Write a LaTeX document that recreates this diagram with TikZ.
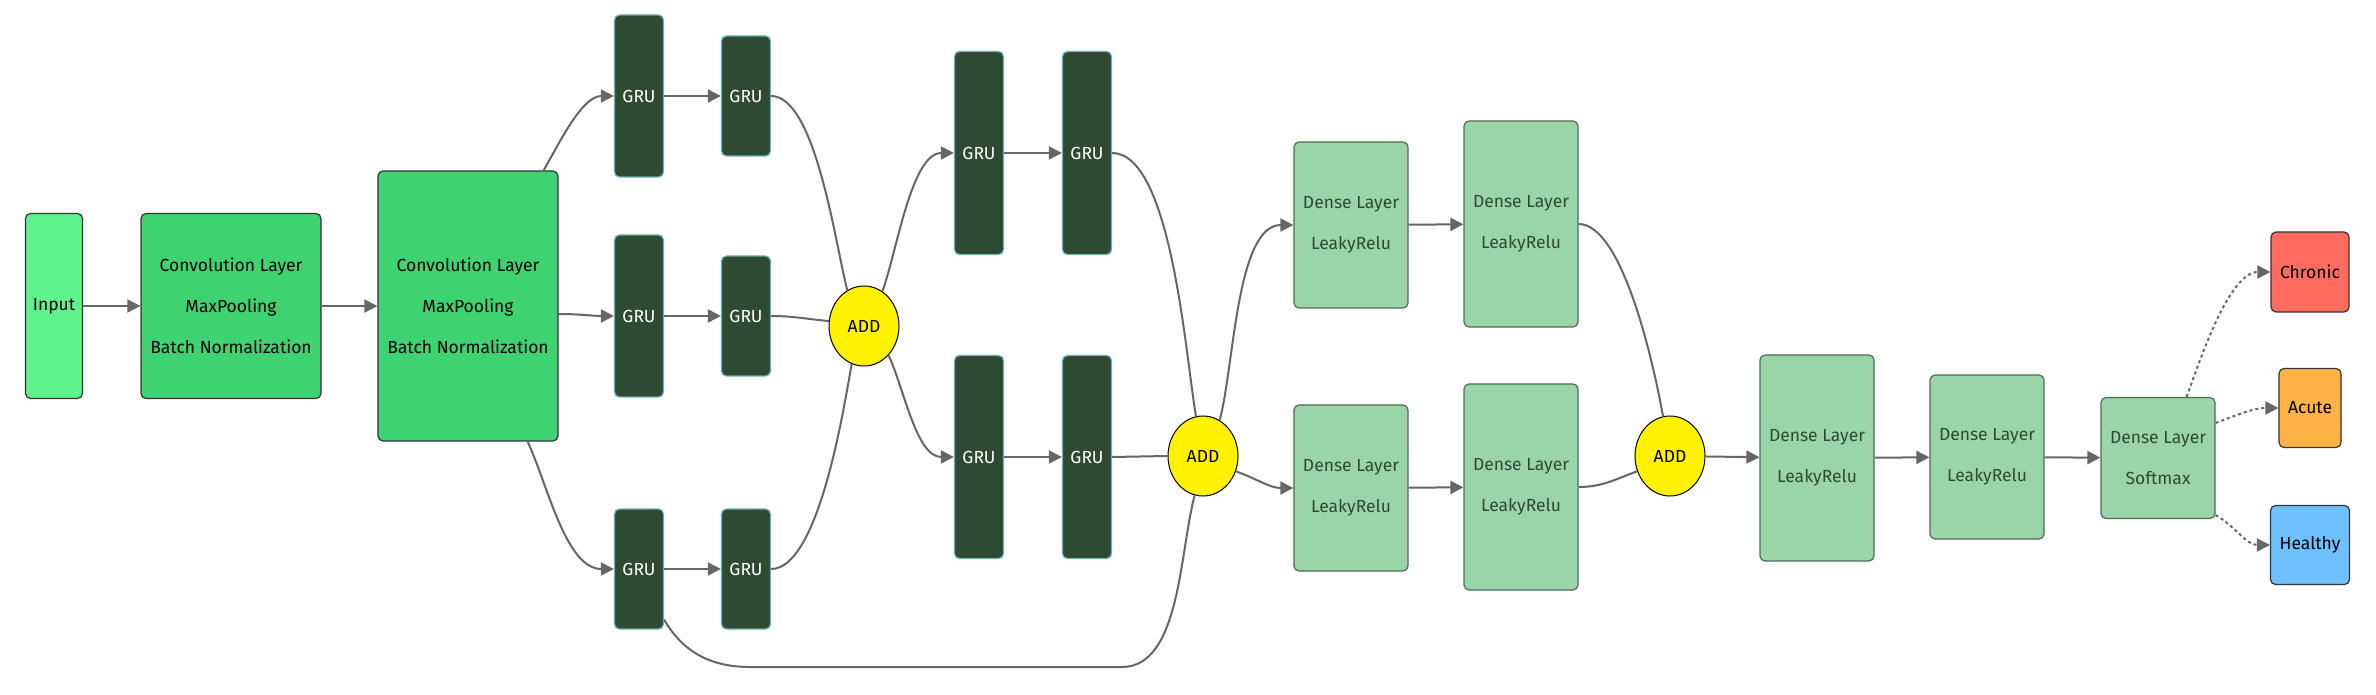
\documentclass[tikz,border=0pt]{standalone}
\usepackage{fontspec}
\setmainfont{Fira Sans}
\usepackage{tikz}
\usetikzlibrary{arrows.meta}
\usetikzlibrary{shapes.geometric}

\definecolor{inputgreen}{HTML}{60F28C}
\definecolor{convgreen}{HTML}{3ED370}
\definecolor{grugreen}{HTML}{2E4A33}
\definecolor{gruedge}{HTML}{6AAFB5}
\definecolor{densegreen}{HTML}{99D5A8}
\definecolor{denseedge}{HTML}{4F6B55}
\definecolor{chronicred}{HTML}{FF6B5E}
\definecolor{acuteorange}{HTML}{FFB347}
\definecolor{healthyblue}{HTML}{6EC0FF}
\definecolor{linkgray}{HTML}{666666}

\begin{document}
\begin{tikzpicture}[x=1pt,y=1pt,
  layer/.style={draw,line width=1.2pt,rounded corners=5pt,inner sep=0pt,align=center,
    font={\fontsize{17.5}{41}\selectfont}},
  convbox/.style={layer,draw=black!80,fill=convgreen,minimum width=180pt},
  grubox/.style={layer,draw=gruedge,fill=grugreen,text=white,minimum width=49pt},
  densebox/.style={layer,draw=denseedge,fill=densegreen,text=grugreen,minimum width=114pt},
  outbox/.style={layer,draw=black!80,minimum height=79pt},
  addnode/.style={ellipse,draw=black,line width=1pt,fill=yellow,inner sep=0pt,
    minimum width=70pt,minimum height=80pt,font={\fontsize{17.5}{20}\selectfont}},
  link/.style={draw=linkgray,line width=2pt,-{Triangle[length=13pt,width=13pt]}},
  joinlink/.style={draw=linkgray,line width=2pt},
  dotlink/.style={link,dash pattern=on 3pt off 3pt}]
  \useasboundingbox (0,0) rectangle (2376,694);

  %input and convolutions
  \node[layer,draw=black!80,fill=inputgreen,minimum width=57pt,minimum height=185pt] (input) at (54,388) {Input};
  \node[convbox,minimum height=185pt] (conv1) at (231,388) {Convolution Layer\\MaxPooling\\Batch Normalization};
  \node[convbox,minimum height=270pt] (conv2) at (468,388) {Convolution Layer\\MaxPooling\\Batch Normalization};

  %first GRU branches
  \node[grubox,minimum height=162pt] (grua1) at (639,598) {GRU};
  \node[grubox,minimum height=120pt] (grua2) at (746,598) {GRU};
  \node[grubox,minimum height=162pt] (grub1) at (639,378) {GRU};
  \node[grubox,minimum height=120pt] (grub2) at (746,378) {GRU};
  \node[grubox,minimum height=120pt] (gruc1) at (639,125) {GRU};
  \node[grubox,minimum height=120pt] (gruc2) at (746,125) {GRU};
  \node[addnode] (add1) at (864,368) {ADD};

  %second GRU branches
  \node[grubox,minimum height=203pt] (grud1) at (979,541) {GRU};
  \node[grubox,minimum height=203pt] (grud2) at (1087,541) {GRU};
  \node[grubox,minimum height=203pt] (grue1) at (979,237) {GRU};
  \node[grubox,minimum height=203pt] (grue2) at (1087,237) {GRU};
  \node[addnode] (add2) at (1203,238) {ADD};

  %dense branches
  \node[densebox,minimum height=166pt] (densea1) at (1351,469) {Dense Layer\\LeakyRelu};
  \node[densebox,minimum height=206pt] (densea2) at (1521,470) {Dense Layer\\LeakyRelu};
  \node[densebox,minimum height=166pt] (denseb1) at (1351,206) {Dense Layer\\LeakyRelu};
  \node[densebox,minimum height=206pt] (denseb2) at (1521,207) {Dense Layer\\LeakyRelu};
  \node[addnode] (add3) at (1670,238) {ADD};

  %head
  \node[densebox,minimum height=206pt] (densec) at (1817,236) {Dense Layer\\LeakyRelu};
  \node[densebox,minimum height=164pt] (densed) at (1987,237) {Dense Layer\\LeakyRelu};
  \node[densebox,minimum height=121pt] (densee) at (2158,236) {Dense Layer\\Softmax};
  \node[outbox,fill=chronicred,minimum width=78pt,minimum height=80pt] (chronic) at (2310,422) {Chronic};
  \node[outbox,fill=acuteorange,minimum width=62pt] (acute) at (2310,286) {Acute};
  \node[outbox,fill=healthyblue,minimum width=79pt] (healthy) at (2310,149) {Healthy};

  %skip path coordinates
  \coordinate (skipa) at (750,27);
  \coordinate (skipb) at (1122,27);

  %links
  \draw[link] (input) -- (conv1);
  \draw[link] (conv1) -- (conv2);
  \draw[link] ([xshift=-15pt]conv2.north east) to[out=60,in=180,looseness=0.8] (grua1.west);
  \draw[link] ([yshift=-8pt]conv2.east) to[out=0,in=180] (grub1.west);
  \draw[link] ([xshift=-31pt]conv2.south east) to[out=-65,in=180,looseness=0.8] (gruc1.west);
  \draw[link] (grua1) -- (grua2);
  \draw[link] (grub1) -- (grub2);
  \draw[link] (gruc1) -- (gruc2);
  \draw[joinlink] (grua2.east) to[out=0,in=105,looseness=0.55] (add1.115);
  \draw[joinlink] (grub2.east) to[out=0,in=175] (add1.172);
  \draw[joinlink] (gruc2.east) to[out=0,in=-100,looseness=0.55] (add1.-108);
  \draw[link] (add1.62) to[out=70,in=180,looseness=0.7] (grud1.west);
  \draw[link] (add1.-50) to[out=-65,in=180,looseness=0.8] (grue1.west);
  \draw[link] (grud1) -- (grud2);
  \draw[link] (grue1) -- (grue2);
  \draw[joinlink] (grud2.east) to[out=0,in=100,looseness=0.55] (add2.100);
  \draw[joinlink] (grue2.east) -- (add2.west);
  \draw[joinlink] ([yshift=10pt]gruc1.south east) to[out=-60,in=180] (skipa) -- (skipb) to[out=0,in=-105,looseness=0.8] (add2.-102);
  \draw[link] (add2.65) to[out=75,in=180,looseness=0.7] (densea1.west);
  \draw[link] (add2.-25) to[out=-20,in=180] (denseb1.west);
  \draw[link] (densea1) -- (densea2);
  \draw[link] (denseb1) -- (denseb2);
  \draw[joinlink] (densea2.east) to[out=0,in=100,looseness=0.55] (add3.100);
  \draw[joinlink] (denseb2.east) to[out=0,in=200] (add3.205);
  \draw[link] (add3) -- (densec);
  \draw[link] (densec) -- (densed);
  \draw[link] (densed) -- (densee);
  \draw[dotlink] ([xshift=-29pt]densee.north east) to[out=70,in=180,looseness=0.7] (chronic.west);
  \draw[dotlink] ([yshift=-26pt]densee.north east) to[out=20,in=180] (acute.west);
  \draw[dotlink] ([yshift=4pt]densee.south east) to[out=-30,in=180] (healthy.west);
\end{tikzpicture}
\end{document}
